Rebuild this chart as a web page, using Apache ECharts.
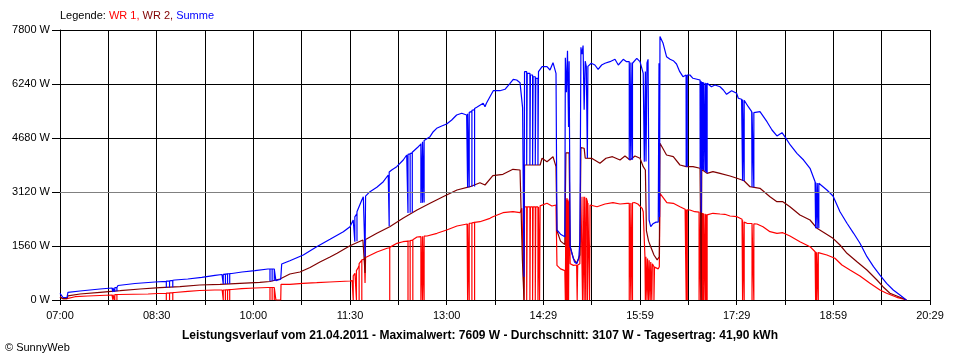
<!DOCTYPE html>
<html>
<head>
<meta charset="utf-8">
<script src="https://cdn.jsdelivr.net/npm/echarts@6/dist/echarts.min.js"></script>
<style>
  html, body { margin: 0; padding: 0; background: #fff; }
  #chart { width: 960px; height: 360px; }
</style>
</head>
<body>
<div id="chart"></div>
<script>
// x values: minutes after 07:00, y values: W
var xTickLabels = ['07:00', '08:30', '10:00', '11:30', '13:00', '14:29', '15:59', '17:29', '18:59', '20:29'];
var yTickLabels = ['0 W', '1560 W', '3120 W', '4680 W', '6240 W', '7800 W'];
var legendParts = ['Legende: ', 'WR 1, ', 'WR 2, ', 'Summe'];
var captionText = 'Leistungsverlauf vom 21.04.2011 - Maximalwert: 7609 W - Durchschnitt: 3107 W - Tagesertrag: 41,90 kWh';
var averageLine = 3120;

var wr1Points = [
  [0,95],[2.5,40],[6.5,40],[7.4,95],[14,95],[26,116],[37,130],[48.4,144],
  [49.3,144],[49.3,0],[49.3,150],[51,150],[51,0],[51,155],[53,155],[53,0],[53,159],
  [55,159],[82,173],[91,188],
  [99,195],[99,0],[99,200],[102,200],[102,0],[102,205],[105,210],[105,0],[105,215],
  [107,217],[119,251],[130,274],[144,289],[151,289],
  [152,289],[152,0],[152,289],[154,290],[154,0],[154,290],[156,295],[156,0],[156,295],[158,300],[158,0],[158,300],
  [160,303],[169,326],[181.5,347],[193.6,361],
  [195.5,361],[195.5,0],[195.5,361],[197.5,361],[197.5,0],[197.5,361],[199.5,361],[199.5,0],[199.5,361],
  [200.5,361],[201,0],[205.5,0],[205.8,454],
  [214,454],[226,482],[239,500],[251,520],[270,549],[272,560],
  [273,560],[273,0],[273,700],[274.6,771],[276,800],[276,0],[276,850],[277.4,924],[278.5,1000],[278.5,0],[278.5,1050],
  [279.3,1106],[281,1150],[281,0],[281,1160],[282,1176],[283.5,1180],[284,491],[284.5,1230],[286,1271],
  [295,1387],[304.5,1494],[307,1510],[307,0],[307,1520],[313.7,1638],[319.3,1684],
  [324,1700],[324,0],[324,1705],[326,1710],[326,0],[326,1715],[328.5,1730],[328.5,0],[328.5,1740],
  [332.4,1820],[336,1830],[336,0],[336,1835],[337.5,1838],[337.5,0],[337.5,1840],[339,1842],[339,0],[339,1845],
  [341.7,1849],[351,1927],[360,2022],[369.6,2138],[379,2196],
  [379.5,2196],[379.5,0],[379.5,2200],[381,2210],[381,0],[381,2215],[383.5,2225],[383.5,0],[383.5,2230],[386,2240],[386,0],[386,2245],
  [391,2262],[400.3,2360],[403,2406],[412.4,2522],[421.7,2551],[428.3,2522],
  [430,2650],[431,2690],[432,0],[432.5,2690],[434.5,2690],[434.5,0],[435,2690],[437.5,2690],[437.5,0],[438,2690],
  [440,2690],[440,0],[440.5,2690],[442.5,2690],[442.5,0],[443,2690],[445,2690],[445,0],[445.5,2690],[446.5,2700],[446.5,0],
  [447,2720],[448.8,2744],[453.4,2794],[458,2716],[461.8,2744],
  [462.7,1000],[466,900],[470,850],[470.5,850],[470.5,0],[471,2900],[471.5,2900],[471.5,0],[472,2950],[472.5,2950],[472.5,0],
  [473,2900],[473.5,2900],[473.5,0],[474,2850],[475,1050],[478,1000],[481,1011],[481.5,1011],[481.5,0],[482,1011],[484,1050],
  [485,2984],[486,2984],[486.5,2984],[486.5,0],[487,2984],[488,2984],[488,0],[488.5,2984],[489.5,2984],[489.5,0],
  [490,2950],[491,2850],[491,0],[491.5,2800],[493,2750],[493,0],[493.5,2744],[495,2744],
  [500,2695],[507.4,2773],[514.8,2811],[521.4,2773],[528,2794],
  [530,2794],[530,0],[530,2800],[531.5,2800],[531.5,0],[531.5,2805],[533,2805],[533,0],[533,2810],
  [535.3,2811],[538,2773],[542,2649],[543,2551],
  [544,2550],[544.6,1250],[545,1250],[545,0],[545.5,1250],[546.5,1220],[546.5,0],[547,1200],[548,1180],[548,0],[548.5,1150],
  [549.5,1120],[549.5,0],[550,1100],[551,1070],[551,0],[551.5,1050],[553,960],[553,0],[553.5,950],[557,900],[558,960],
  [558.6,3082],[559.5,3033],[565,2811],[571,2794],[577.2,2695],[582,2620],
  [583,2620],[583,0],[583,2615],[584,2610],[584,0],[584,2605],
  [586.5,2600],[591,2551],
  [595,2540],[595,0],[595,2535],[596.5,2530],[596.5,0],[596.5,2525],[598,2520],[598,0],[598,2515],[599,2510],[599,0],[599,2505],
  [600.5,2500],[600.5,0],[600.5,2495],[601.5,2490],[601.5,0],[601.5,2480],[602.5,2470],[602.5,0],[602.5,2460],
  [603.3,2456],[607.9,2505],[614.5,2484],[619,2476],[623.8,2427],[630.3,2406],[635,2331],
  [635.5,2320],[635.5,0],[635.5,2300],[637,2280],[637,0],[637,2250],
  [639.6,2216],
  [644.3,2210],[644.3,0],[644.3,2205],[646,2200],[646,0],[646,2198],
  [648.9,2196],[654.5,2118],[661,1973],[667.5,1927],[673,1944],[679.6,1849],[688.9,1684],[698.3,1540],[703,1395],
  [703.5,1395],[703.5,0],[703.5,1390],[704.5,1385],[704.5,0],[704.5,1380],[706,1375],[706,0],[706,1370],
  [707.6,1366],[714,1300],[721.5,1205],[728,1011],[735.5,867],[744.8,693],[754.1,482],[763.4,289],[769.6,194],[779,78],[786.7,20],[788,0]
];

var wr2Points = [
  [0,90],[2.5,40],[6.5,40],[7.4,120],[18.6,173],[37.2,222],[56,269],[74.5,318],[93,355],[111.7,384],[130,433],[149,454],
  [167.6,482],[186,511],[195.5,534],[204.8,607],[214,751],[223.4,809],[232.8,939],[242,1098],[251.4,1242],[258,1349],
  [270,1569],[282,1733],[283.5,1740],[284,780],[284.5,1750],[295,1927],[307,2118],[319.3,2360],[332.4,2600],[344.5,2794],
  [356.6,2984],[369.6,3178],[381.7,3273],[391,3389],[395.7,3322],[403,3591],[412.4,3631],[421.7,3776],[428.3,3756],
  [430,3780],[430.5,1156],[431.5,1156],[432,0],[432.5,3900],[447,3900],[448.8,4094],[453.4,3996],[459,4140],[461.8,3851],
  [462.7,2000],[466,1700],[470,1600],[470.5,1600],[471,4250],[474,4250],[475,1540],[478,1200],[481,1060],[484,1300],
  [485,4400],[488,4383],[489,4100],[495,4094],
  [502.7,3949],[508.3,4094],[514.4,4140],[521.4,4044],[526,4160],[530.7,4044],[535.3,4160],[540,4094],[543,3851],
  [545,3756],[546,2000],[548,1700],[550,1540],[553,1300],[556,1160],[558,1250],[558.6,4527],[559.5,4478],[564.7,4189],
  [571,4140],[577.2,3900],[583,3851],[589.3,3851],[595.9,3805],[597,3790],[597,0],[597.5,3770],[599,3756],[602.4,3660],
  [607.9,3707],[614.5,3660],[623.8,3582],[630.3,3516],[636.8,3446],[642.4,3273],[651.7,3227],[661,2984],[667.5,2840],
  [673,2840],[679.6,2695],[688.9,2456],[698.3,2311],[704.8,2071],[710,1973],[719.7,1782],[726.2,1589],[732.7,1349],
  [742,1106],[751.3,867],[760.6,578],[766.2,384],[772.7,194],[782,78],[786.7,20],[788,0]
];

var summePoints = [
  [0,194],[1.5,150],[2.8,72],[6.5,72],[7.4,222],[18.6,260],[37.2,318],[48.4,347],
  [49.3,347],[49.3,231],[49.3,350],[51,352],[51,240],[51,355],[53,357],[53,250],[53,360],
  [54,419],[69.8,477],[88.4,520],
  [99,540],[99,355],[99,545],[102,550],[102,360],[102,555],[105,565],[105,370],[105,570],
  [107,578],[119,607],[132,656],[144.3,714],[150.8,737],
  [152,737],[152,462],[152,740],[154,745],[154,462],[154,750],[156,755],[156,465],[156,758],[158,760],[158,470],[158,762],
  [160,766],[169.4,809],[181.5,846],[193.6,896],
  [195.5,896],[195.5,540],[195.5,896],[197.5,896],[197.5,545],[197.5,896],[199.5,896],[199.5,549],[199.5,896],
  [200.5,896],[201,560],[205.5,600],[206.4,1040],[214,1135],[226.5,1300],[239,1540],[251.4,1754],[263.8,1973],[270,2118],[273,2311],
  [274.5,2350],[274.5,1684],[274.5,2400],[276.5,2500],[276.5,1700],[276.5,2550],
  [277.7,2600],[281,2889],[282.4,2984],[283.5,2984],[284,1251],[284.5,3000],[285.5,3033],[288.6,3129],[295,3256],[301,3418],
  [305.6,3611],[306.5,3620],[306.5,2130],[306.5,3700],[308.8,3756],[313.5,3851],[319.6,4044],[322.8,4189],
  [324,4200],[324,2513],[324,4210],[326,4220],[326,2520],[326,4230],[328,4250],[328,2530],[328,4270],
  [329,4284],[333.6,4429],
  [336,4500],[336,2802],[336,4520],[337.5,4550],[337.5,2810],[337.5,4570],[339,4600],[339,2820],[339,4610],
  [339.8,4622],[344.5,4718],[347.5,4862],[350.7,4960],[355.4,5027],[360,5084],[364.7,5200],[369.3,5344],[374,5394],[378.6,5344],
  [379.5,5344],[379.5,3250],[379.5,5380],[381,5400],[381,3260],[381,5420],[383.5,5450],[383.5,3270],[383.5,5480],[386,5500],[386,3280],[386,5530],
  [388,5567],[394,5682],[395.7,5584],[397,5682],[400.3,5873],[403.4,6046],[409.6,6046],[414.3,6087],[419,6260],[422,6376],[425.2,6356],[428.3,6278],
  [430,6278],[430.7,5550],[431.5,5550],[432,673],[432.5,6596],[434.5,6596],[434.5,3900],[435,6549],[437.5,6549],[437.5,3900],
  [438,6500],[440,6500],[440,3900],[440.5,6450],[442.5,6450],[442.5,3900],[443,6400],[445,6400],[445,3900],[445.5,6600],
  [447,6650],[448.8,6740],[449.7,6789],[453.4,6740],[456.2,6644],[459,6856],[461.8,6549],
  [462.7,2022],[466,1900],[470,1830],[470.5,7000],[471.5,6000],[472.5,7200],[473.5,5000],[474,6900],[475,1540],[477,1300],
  [479,1100],[481,1050],[483,1200],[484,1700],[485,7300],[486,7100],[487,7350],[488,5500],[489,6900],[490,6750],[491,4100],
  [491.5,6750],[493,6800],[494.6,6838],
  [498,6789],[501,6665],[504.3,6789],[507.4,6838],[512,6885],[516.7,6953],[519.8,6789],[524.4,6953],[527.5,6885],
  [530,6885],[530,4044],[530,6880],[531.5,6870],[531.5,4044],[531.5,6860],[533,6850],[533,4050],[533,6840],
  [533.7,6838],[537,6982],[540,6885],[543,6549],
  [544,3996],[545,6600],[545.6,4000],[546.5,6850],[547.5,6953],[548.5,2300],[550,2118],[552,2200],[555,2250],[557,2250],
  [557.7,6838],[558.2,2400],[558.6,7609],[561.5,7416],[564.7,7029],[568,6953],[571,6913],[574,6818],[577,6596],[580,6451],[582.9,6500],
  [583,3851],[583,6500],[584,6500],[584,3851],[584,6500],
  [586.5,6500],[589.3,6405],[595.9,6356],
  [596,6350],[596,3805],[596,6340],[597,6330],[597,2530],[597,6320],[598,6310],[598,3770],[598,6300],[599,6300],[599,3756],[599,6290],
  [600.5,6280],[600.5,3720],[600.5,6275],[601.5,6270],[601.5,3700],[601.5,6265],[602.5,6262],[602.5,3670],[602.5,6260],
  [603.3,6260],[606.5,6162],[609.8,6211],[614.5,6162],[617.6,6067],[620.6,5942],[625.3,6046],[630,5971],[631.5,5827],[634.6,5798],
  [635.5,5798],[635.5,3446],[635.5,5790],[637,5780],[637,3440],[637,5770],
  [637.7,5758],[640.8,5584],[644,5440],
  [644.3,5440],[644.3,3273],[644.3,5420],[646,5411],[646,3260],[646,5411],
  [647,5411],[651.7,5440],[658.2,5151],[662.9,4911],[667.5,4738],[672.2,4833],[675.3,4700],[679.9,4478],[686.1,4238],[692.3,4044],[698.3,3805],[703,3418],
  [703.5,3418],[703.5,2071],[703.5,3400],[705,3390],[705,2071],[705,3380],[706.5,3375],[706.5,2071],[706.5,3371],
  [707.6,3371],[714,3178],[719.7,3004],[726.2,2551],[732.7,2216],[738.9,1927],[744.8,1638],[751.3,1251],[757.4,962],
  [763.4,722],[769.6,482],[775.8,289],[782,144],[786.7,29],[788,0]
];

var FONT = "'Liberation Sans', Arial, sans-serif";

var chart = echarts.init(document.getElementById('chart'), null, { renderer: 'canvas' });

function lineSeries(name, data, color, z, extra) {
  var s = {
    name: name,
    type: 'line',
    data: data,
    symbol: 'none',
    showSymbol: false,
    silent: true,
    z: z,
    animation: false,
    lineStyle: { color: color, width: 1.2 },
    itemStyle: { color: color },
    emphasis: { disabled: true }
  };
  if (extra) { for (var k in extra) s[k] = extra[k]; }
  return s;
}

chart.setOption({
  animation: false,
  backgroundColor: '#ffffff',
  title: [
    {
      left: 60, top: 10,
      text: '{k|' + legendParts[0] + '}{a|' + legendParts[1] + '}{b|' + legendParts[2] + '}{c|' + legendParts[3] + '}',
      padding: 0,
      textStyle: {
        fontSize: 11, fontFamily: FONT, fontWeight: 'normal',
        rich: {
          k: { color: '#000000', fontSize: 11, fontFamily: FONT },
          a: { color: '#ff0000', fontSize: 11, fontFamily: FONT },
          b: { color: '#800000', fontSize: 11, fontFamily: FONT },
          c: { color: '#0000ff', fontSize: 11, fontFamily: FONT }
        }
      }
    },
    {
      left: 'center', top: 330, padding: 0,
      text: captionText,
      textStyle: { fontSize: 12, fontFamily: FONT, fontWeight: 'bold', color: '#000' }
    },
    {
      left: 5, top: 342, padding: 0,
      text: '\u00a9 SunnyWeb',
      textStyle: { fontSize: 11, fontFamily: FONT, fontWeight: 'normal', color: '#000' }
    }
  ],
  grid: { left: 60, right: 30, top: 30, bottom: 60, containLabel: false, outerBoundsMode: 'none' },
  xAxis: {
    type: 'value', min: 0, max: 810, interval: 45,
    axisLine: { show: true, onZero: false, lineStyle: { color: '#000', width: 1 } },
    axisTick: { show: true, length: 5, lineStyle: { color: '#000', width: 1 } },
    axisLabel: {
      margin: 10, color: '#000', fontSize: 11, fontFamily: FONT,
      formatter: function (v) { return (v % 90 === 0) ? (xTickLabels[v / 90] || '') : ''; }
    },
    splitLine: { show: true, lineStyle: { color: '#000', width: 1 } }
  },
  yAxis: {
    type: 'value', min: 0, max: 7800, interval: 1560,
    axisLine: { show: true, lineStyle: { color: '#000', width: 1 } },
    axisTick: { show: true, length: 8, lineStyle: { color: '#000', width: 1 } },
    axisLabel: {
      margin: 10, color: '#000', fontSize: 11, fontFamily: FONT,
      formatter: function (v) { return yTickLabels[Math.round(v / 1560)]; }
    },
    splitLine: { show: true, lineStyle: { color: '#000', width: 1 } }
  },
  series: [
    lineSeries('WR 1', wr1Points, '#ff0000', 2),
    lineSeries('WR 2', wr2Points, '#800000', 3),
    lineSeries('Summe', summePoints, '#0000ff', 4, {
      markLine: {
        silent: true, symbol: 'none', animation: false,
        label: { show: false },
        lineStyle: { color: '#808080', type: 'solid', width: 1 },
        data: [{ yAxis: averageLine }]
      }
    })
  ]
});
</script>
</body>
</html>
